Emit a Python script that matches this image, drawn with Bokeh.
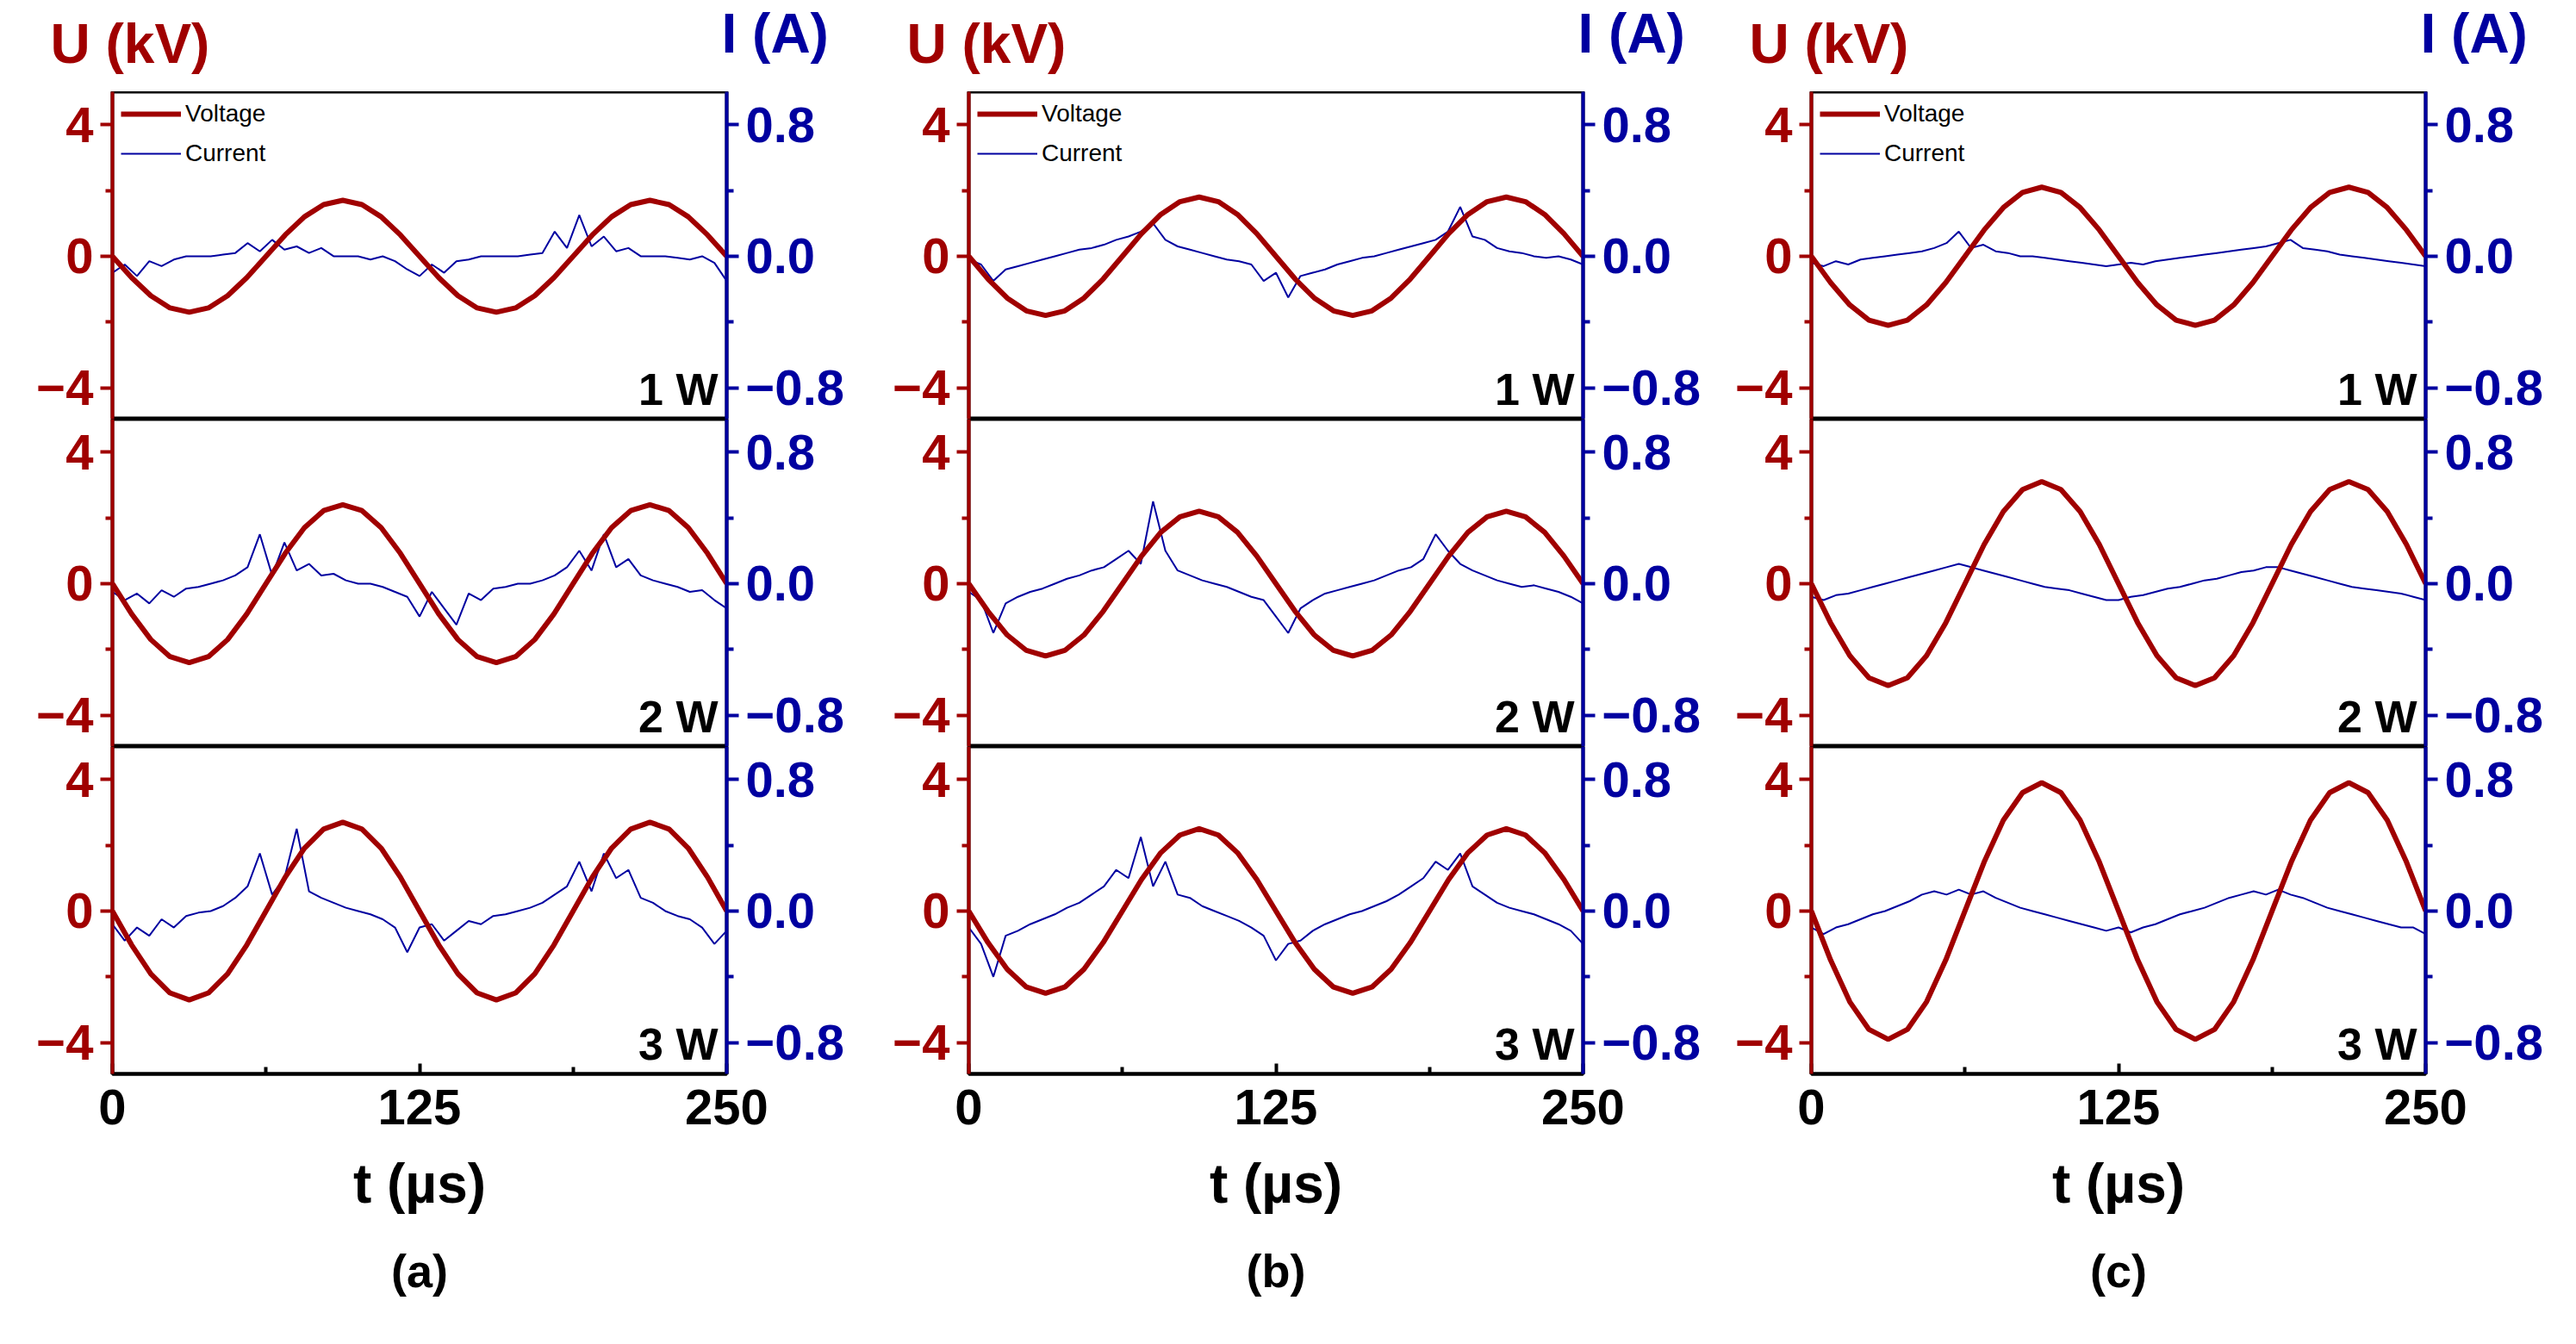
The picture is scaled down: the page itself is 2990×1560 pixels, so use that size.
from bokeh.plotting import figure
from bokeh.models import Range1d, LinearAxis, FixedTicker, Label, Title, Legend, LegendItem, CustomJSTickFormatter
from bokeh.core.properties import value
from bokeh.layouts import row, column
from bokeh.embed import file_html
from bokeh.resources import INLINE

RED = "#a00000"
BLUE = "#0000a0"
FONT = "Liberation Sans"

panel_names = ["(a)", "(b)", "(c)"]
power_labels = ["1 W", "2 W", "3 W"]

# voltage (kV), sampled every 250/32 us
volt = {
    "a1": [0,-0.65,-1.2,-1.57,-1.7,-1.57,-1.2,-0.65,0,0.65,1.2,1.57,1.7,1.57,1.2,0.65,0,-0.65,-1.2,-1.57,-1.7,-1.57,-1.2,-0.65,0,0.65,1.2,1.57,1.7,1.57,1.2,0.65,0],
    "a2": [0,-0.92,-1.7,-2.22,-2.4,-2.22,-1.7,-0.92,0,0.92,1.7,2.22,2.4,2.22,1.7,0.92,0,-0.92,-1.7,-2.22,-2.4,-2.22,-1.7,-0.92,0,0.92,1.7,2.22,2.4,2.22,1.7,0.92,0],
    "a3": [0,-1.03,-1.91,-2.49,-2.7,-2.49,-1.91,-1.03,0,1.03,1.91,2.49,2.7,2.49,1.91,1.03,0,-1.03,-1.91,-2.49,-2.7,-2.49,-1.91,-1.03,0,1.03,1.91,2.49,2.7,2.49,1.91,1.03,0],
    "b1": [0,-0.69,-1.27,-1.66,-1.8,-1.66,-1.27,-0.69,0,0.69,1.27,1.66,1.8,1.66,1.27,0.69,0,-0.69,-1.27,-1.66,-1.8,-1.66,-1.27,-0.69,0,0.69,1.27,1.66,1.8,1.66,1.27,0.69,0],
    "b2": [0,-0.84,-1.56,-2.03,-2.2,-2.03,-1.56,-0.84,0,0.84,1.56,2.03,2.2,2.03,1.56,0.84,0,-0.84,-1.56,-2.03,-2.2,-2.03,-1.56,-0.84,0,0.84,1.56,2.03,2.2,2.03,1.56,0.84,0],
    "b3": [0,-0.96,-1.77,-2.31,-2.5,-2.31,-1.77,-0.96,0,0.96,1.77,2.31,2.5,2.31,1.77,0.96,0,-0.96,-1.77,-2.31,-2.5,-2.31,-1.77,-0.96,0,0.96,1.77,2.31,2.5,2.31,1.77,0.96,0],
    "c1": [0,-0.8,-1.48,-1.94,-2.1,-1.94,-1.48,-0.8,0,0.8,1.48,1.94,2.1,1.94,1.48,0.8,0,-0.8,-1.48,-1.94,-2.1,-1.94,-1.48,-0.8,0,0.8,1.48,1.94,2.1,1.94,1.48,0.8,0],
    "c2": [0,-1.19,-2.19,-2.86,-3.1,-2.86,-2.19,-1.19,0,1.19,2.19,2.86,3.1,2.86,2.19,1.19,0,-1.19,-2.19,-2.86,-3.1,-2.86,-2.19,-1.19,0,1.19,2.19,2.86,3.1,2.86,2.19,1.19,0],
    "c3": [0,-1.49,-2.76,-3.6,-3.9,-3.6,-2.76,-1.49,0,1.49,2.76,3.6,3.9,3.6,2.76,1.49,0,-1.49,-2.76,-3.6,-3.9,-3.6,-2.76,-1.49,0,1.49,2.76,3.6,3.9,3.6,2.76,1.49,0],
}

# current (A), sampled every 5 us
curr = {
    "a1": [-0.1,-0.05,-0.12,-0.03,-0.06,-0.02,0,0,0,0.01,0.02,0.08,0.03,0.1,0.04,0.06,0.02,0.05,0,0,0,-0.02,0,-0.03,-0.08,-0.12,-0.05,-0.1,-0.03,-0.02,0,0,0,0,0.01,0.02,0.15,0.05,0.25,0.06,0.12,0.03,0.05,0,0,0,-0.01,-0.02,0,-0.04,-0.15],
    "a2": [-0.05,-0.1,-0.06,-0.12,-0.04,-0.08,-0.03,-0.02,0,0.02,0.05,0.1,0.3,0.05,0.25,0.08,0.12,0.05,0.06,0.02,0,0,-0.02,-0.05,-0.08,-0.2,-0.05,-0.15,-0.25,-0.06,-0.1,-0.03,-0.02,0,0,0.02,0.05,0.1,0.2,0.08,0.3,0.1,0.15,0.05,0.02,0,-0.02,-0.05,-0.04,-0.1,-0.15],
    "a3": [-0.08,-0.18,-0.1,-0.15,-0.05,-0.1,-0.03,-0.01,0,0.03,0.08,0.15,0.35,0.1,0.2,0.5,0.12,0.08,0.05,0.02,0,-0.02,-0.05,-0.1,-0.25,-0.1,-0.08,-0.18,-0.12,-0.06,-0.08,-0.03,-0.02,0,0.02,0.05,0.1,0.15,0.3,0.12,0.35,0.2,0.25,0.08,0.05,0,-0.03,-0.05,-0.1,-0.2,-0.12],
    "b1": [-0.02,-0.05,-0.15,-0.08,-0.06,-0.04,-0.02,0,0.02,0.04,0.05,0.07,0.1,0.12,0.15,0.2,0.1,0.06,0.04,0.02,0,-0.02,-0.03,-0.05,-0.15,-0.1,-0.25,-0.12,-0.1,-0.08,-0.05,-0.03,-0.01,0,0.02,0.04,0.06,0.08,0.1,0.15,0.3,0.12,0.1,0.05,0.03,0.02,0,-0.01,0,-0.02,-0.05],
    "b2": [-0.05,-0.1,-0.3,-0.12,-0.08,-0.05,-0.03,0,0.03,0.05,0.08,0.1,0.15,0.2,0.12,0.5,0.2,0.08,0.05,0.02,0,-0.02,-0.05,-0.08,-0.1,-0.2,-0.3,-0.15,-0.1,-0.06,-0.04,-0.02,0,0.02,0.05,0.08,0.1,0.15,0.3,0.2,0.12,0.08,0.05,0.02,0,-0.02,-0.01,-0.03,-0.05,-0.08,-0.12],
    "b3": [-0.1,-0.2,-0.4,-0.15,-0.12,-0.08,-0.05,-0.02,0.02,0.05,0.1,0.15,0.25,0.2,0.45,0.15,0.3,0.1,0.08,0.03,0,-0.03,-0.06,-0.1,-0.15,-0.3,-0.2,-0.18,-0.12,-0.08,-0.05,-0.02,0,0.03,0.06,0.1,0.15,0.2,0.3,0.25,0.35,0.15,0.1,0.05,0.02,0,-0.02,-0.05,-0.08,-0.12,-0.2],
    "c1": [-0.04,-0.06,-0.03,-0.05,-0.02,-0.01,0,0.01,0.02,0.03,0.05,0.08,0.15,0.05,0.07,0.03,0.02,0,0,-0.01,-0.02,-0.03,-0.04,-0.05,-0.06,-0.05,-0.04,-0.05,-0.03,-0.02,-0.01,0,0.01,0.02,0.03,0.04,0.05,0.06,0.08,0.1,0.05,0.04,0.03,0.01,0,-0.01,-0.02,-0.03,-0.04,-0.05,-0.06],
    "c2": [-0.08,-0.1,-0.07,-0.06,-0.04,-0.02,0,0.02,0.04,0.06,0.08,0.1,0.12,0.1,0.08,0.06,0.04,0.02,0,-0.02,-0.03,-0.04,-0.06,-0.08,-0.1,-0.1,-0.08,-0.07,-0.05,-0.03,-0.02,0,0.02,0.03,0.05,0.07,0.08,0.1,0.1,0.08,0.06,0.04,0.02,0,-0.02,-0.03,-0.04,-0.05,-0.06,-0.08,-0.1],
    "c3": [-0.1,-0.14,-0.1,-0.08,-0.05,-0.02,0,0.03,0.06,0.1,0.12,0.1,0.13,0.1,0.12,0.08,0.05,0.02,0,-0.02,-0.04,-0.06,-0.08,-0.1,-0.12,-0.1,-0.13,-0.1,-0.08,-0.05,-0.02,0,0.02,0.05,0.08,0.1,0.12,0.1,0.13,0.1,0.08,0.05,0.02,0,-0.02,-0.04,-0.06,-0.08,-0.1,-0.1,-0.14],
}

x_ticks = [0, 125, 250]
u_ticks = [-4, 0, 4]
i_ticks = [-0.8, 0.0, 0.8]

FW, FH = 713, 380
HEAD = 106
borders = [(130, 147), (134, 143), (122, 153)]


def style_axis(ax, color):
    ax.axis_line_color = color
    ax.axis_line_width = 4
    ax.major_tick_line_color = color
    ax.major_tick_line_width = 4
    ax.minor_tick_line_color = color
    ax.minor_tick_line_width = 4
    ax.major_tick_out = 14
    ax.major_tick_in = 0
    ax.minor_tick_out = 8
    ax.minor_tick_in = 0
    ax.major_label_text_color = color
    ax.major_label_text_font = FONT
    ax.major_label_text_font_style = "bold"
    ax.major_label_text_font_size = "58px"
    ax.major_label_standoff = 8


cols = []
for ci, key in enumerate("abc"):
    left, right = borders[ci]
    total_w = left + FW + right

    # header strip with the axis names, one data unit = one pixel
    h = figure(width=total_w, height=HEAD, output_backend="svg", toolbar_location=None,
               x_range=Range1d(0, total_w), y_range=Range1d(0, HEAD),
               min_border=0, x_axis_location=None, y_axis_location=None)
    h.grid.visible = False
    h.outline_line_color = None
    h.text([left - 72], [20], text=["U (kV)"], text_color=RED, text_font=value(FONT),
           text_font_style="bold", text_font_size="64px", text_baseline="bottom")
    h.text([left + FW - 6], [32], text=["I (A)"], text_color=BLUE, text_font=value(FONT),
           text_font_style="bold", text_font_size="64px", text_baseline="bottom")
    figs = [row(h)]

    for ri in range(3):
        name = key + str(ri + 1)
        bottom = 290 if ri == 2 else 0
        p = figure(frame_width=FW, frame_height=FH, output_backend="svg",
                   toolbar_location=None, x_range=Range1d(0, 250),
                   y_range=Range1d(-4.95, 5.0),
                   min_border_left=left, min_border_right=right,
                   min_border_top=0, min_border_bottom=bottom,
                   x_axis_location="below" if ri == 2 else None)
        p.extra_y_ranges = {"i": Range1d(-0.99, 1.0)}
        p.grid.visible = False
        p.outline_line_color = "black"
        p.outline_line_width = 4

        ya = p.yaxis[0]
        ya.ticker = FixedTicker(ticks=u_ticks, minor_ticks=[-2, 2])
        style_axis(ya, RED)
        ra = LinearAxis(y_range_name="i", ticker=FixedTicker(ticks=i_ticks, minor_ticks=[-0.4, 0.4]),
                        formatter=CustomJSTickFormatter(code="return tick.toFixed(1).replace('-', '\u2212');"))
        style_axis(ra, BLUE)
        p.add_layout(ra, "right")
        ya.formatter = CustomJSTickFormatter(code="return String(tick).replace('-', '\u2212');")

        if ri == 2:
            xa = p.xaxis[0]
            xa.ticker = FixedTicker(ticks=x_ticks, minor_ticks=[62.5, 187.5])
            style_axis(xa, "black")
            xa.major_tick_out = 0
            xa.major_tick_in = 12
            xa.minor_tick_out = 0
            xa.minor_tick_in = 8
            xa.major_label_standoff = 18
            xa.axis_label = "t (µs)"
            xa.axis_label_text_color = "black"
            xa.axis_label_text_font = FONT
            xa.axis_label_text_font_style = "bold"
            xa.axis_label_text_font_size = "64px"
            xa.axis_label_standoff = 30
            p.add_layout(Title(text=panel_names[ci], align="center", text_font=FONT,
                               text_color="black", text_font_size="54px",
                               text_font_style="bold", standoff=60), "below")

        tv = [i * 250 / (len(volt[name]) - 1) for i in range(len(volt[name]))]
        tc = [i * 250 / (len(curr[name]) - 1) for i in range(len(curr[name]))]
        lc = p.line(tc, curr[name], y_range_name="i", line_color=BLUE, line_width=2)
        lv = p.line(tv, volt[name], line_color=RED, line_width=6)

        if ri == 0:
            lg = Legend(items=[LegendItem(label="Voltage", renderers=[lv]),
                               LegendItem(label="Current", renderers=[lc])],
                        location="top_left", border_line_alpha=0,
                        background_fill_alpha=0, label_text_font=FONT,
                        label_text_font_size="28px", label_text_color="black",
                        glyph_width=70, label_height=30, glyph_height=30,
                        spacing=14, padding=4, margin=6)
            p.add_layout(lg)

        p.add_layout(Label(x=250, y=-4.95, x_offset=-10, y_offset=6, text=power_labels[ri],
                           text_align="right", text_color="black", text_font=FONT,
                           text_font_style="bold", text_font_size="52px"))
        figs.append(p)
    cols.append(column(*figs, spacing=0))

layout = row(*cols, spacing=0)
open("out.html", "w").write(file_html(layout, INLINE))
